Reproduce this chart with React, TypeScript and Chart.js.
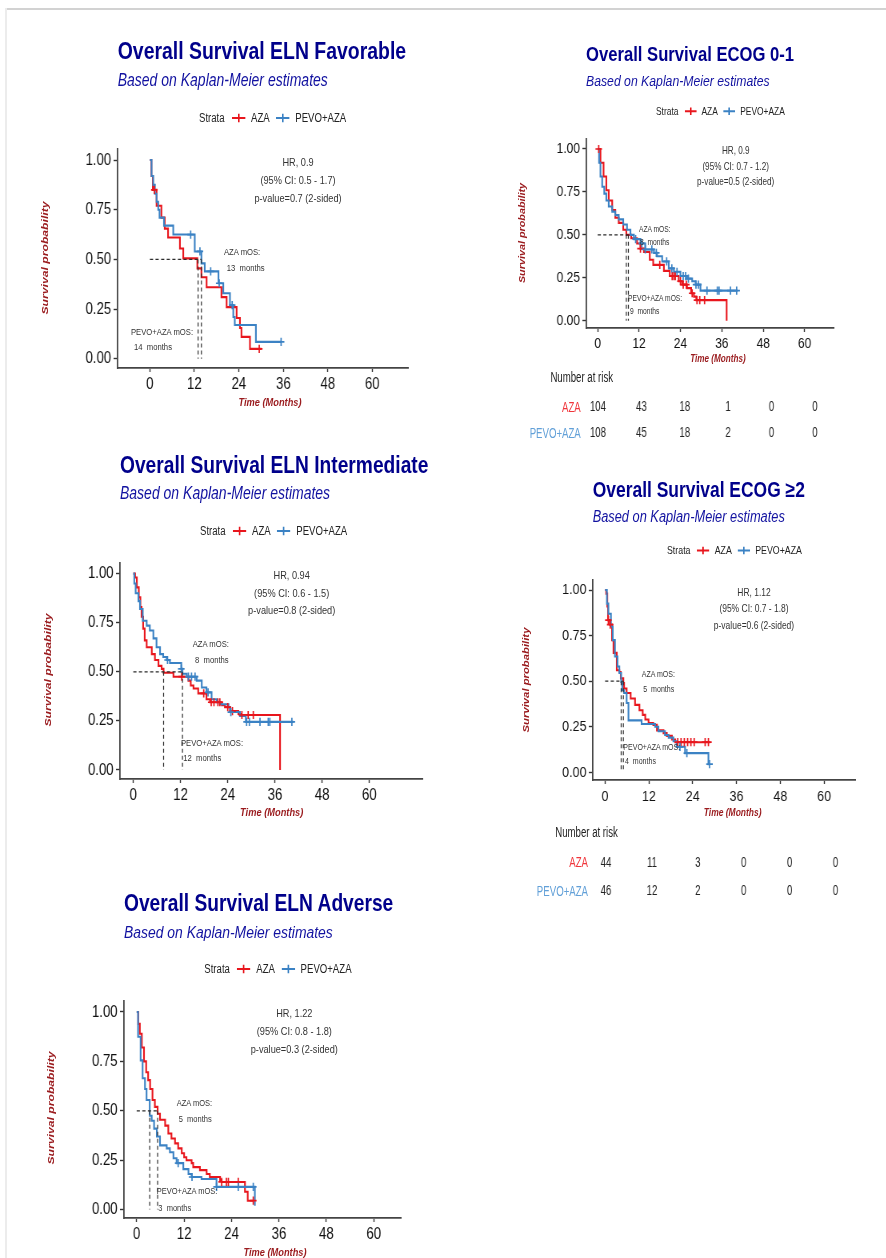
import React, { useEffect, useRef } from "react";
import { Chart, registerables } from "chart.js";
Chart.register(...registerables);

// ---------------- data ----------------
const xTickValues = [0, 12, 24, 36, 48, 60];
const yTickValues = [0, 0.25, 0.5, 0.75, 1];
const strataLabels = ["AZA", "PEVO+AZA"];
const riskTimes = [0, 12, 24, 36, 48, 60];

// ELN Favorable
const favAzaT = [0, 0.4, 0.8, 1.8, 3.1, 4.0, 4.9, 8.1, 9.0, 12.8, 13.9, 15.3, 19.3, 20.7, 23.4, 24.3, 24.7, 27.0, 30.1];
const favAzaS = [1, 0.92, 0.85, 0.77, 0.71, 0.655, 0.61, 0.555, 0.505, 0.455, 0.41, 0.36, 0.31, 0.26, 0.205, 0.155, 0.11, 0.05, 0.05];
const favAzaC = [1.2, 29.5];
const favPevoT = [0, 0.45, 0.9, 1.35, 1.8, 2.25, 2.6, 3.8, 6.3, 12.1, 13.9, 14.8, 18.5, 19.8, 21.6, 22.5, 22.9, 28.6, 35.4];
const favPevoS = [1, 0.92, 0.875, 0.83, 0.79, 0.75, 0.71, 0.67, 0.625, 0.54, 0.48, 0.44, 0.38, 0.33, 0.27, 0.21, 0.17, 0.085, 0.085];
const favPevoC = [11.0, 13.5, 16.4, 18.7, 22.2, 35.4];
const favMedians = [13.0, 13.9];

// ECOG 0-1
const e01AzaT = [0, 0.8, 1.7, 2.5, 3.2, 4.2, 5.1, 6.1, 7.4, 8.3, 9.7, 11.4, 12.4, 13.4, 15.1, 16.1, 19.2, 20.9, 23.5, 24.5, 25.9, 27.1, 27.9, 28.6, 37.4];
const e01AzaS = [1, 0.92, 0.84, 0.76, 0.70, 0.645, 0.60, 0.57, 0.53, 0.50, 0.48, 0.45, 0.42, 0.40, 0.355, 0.325, 0.29, 0.26, 0.23, 0.21, 0.19, 0.16, 0.14, 0.12, 0];
const e01AzaC = [0.3, 12.4, 18.0, 21.6, 22.1, 22.5, 24.0, 24.8, 25.7, 27.4, 28.8, 29.6, 31.0];
const e01PevoT = [0, 0.4, 0.8, 1.3, 1.9, 2.5, 3.2, 4.2, 5.1, 6.1, 7.4, 8.5, 9.5, 10.5, 12.4, 13.8, 16.3, 17.2, 18.7, 20.6, 22.1, 24.0, 25.9, 27.4, 28.4, 29.8, 40.6];
const e01PevoS = [1, 0.92, 0.84, 0.78, 0.74, 0.70, 0.665, 0.635, 0.615, 0.59, 0.56, 0.53, 0.50, 0.475, 0.45, 0.415, 0.395, 0.375, 0.345, 0.305, 0.285, 0.26, 0.245, 0.23, 0.21, 0.175, 0.175];
const e01PevoC = [11.0, 12.8, 13.8, 15.7, 17.0, 20.0, 21.5, 23.0, 24.8, 25.5, 26.3, 28.5, 29.2, 31.7, 34.7, 35.2, 38.5, 40.3];
const e01Medians = [8.3, 8.9];
const e01RiskAza = [104, 43, 18, 1, 0, 0];
const e01RiskPevo = [108, 45, 18, 2, 0, 0];

// ELN Intermediate
const intAzaT = [0, 0.45, 0.9, 1.4, 1.8, 2.1, 2.5, 2.9, 3.4, 4.7, 5.5, 6.4, 7.2, 7.7, 10.2, 14.0, 14.6, 15.3, 16.5, 18.6, 19.5, 22.5, 23.3, 24.6, 26.7, 27.5, 37.3];
const intAzaS = [1, 0.98, 0.93, 0.88, 0.83, 0.78, 0.72, 0.66, 0.625, 0.59, 0.56, 0.53, 0.515, 0.495, 0.475, 0.455, 0.43, 0.415, 0.39, 0.36, 0.345, 0.33, 0.32, 0.30, 0.285, 0.28, 0];
const intAzaC = [12.3, 17.9, 19.8, 20.5, 21.5, 22.0, 24.0, 25.2, 27.6, 29.2, 30.5];
const intPevoT = [0, 0.25, 0.6, 1.3, 1.7, 2.4, 3.4, 4.2, 5.1, 5.9, 6.8, 7.6, 8.5, 9.3, 12.2, 12.5, 13.6, 16.1, 17.4, 18.6, 19.9, 21.2, 22.0, 24.2, 24.6, 27.1, 28.6, 40.7];
const intPevoS = [1, 0.95, 0.90, 0.86, 0.82, 0.76, 0.735, 0.71, 0.67, 0.625, 0.59, 0.575, 0.56, 0.545, 0.515, 0.49, 0.475, 0.455, 0.42, 0.395, 0.36, 0.345, 0.335, 0.32, 0.295, 0.275, 0.245, 0.245];
const intPevoC = [8.7, 12.2, 14.0, 14.8, 15.7, 19.0, 24.8, 28.8, 29.5, 32.2, 34.3, 34.7, 40.3];
const intMedians = [7.7, 12.5];

// ECOG >=2
const e2AzaT = [0, 0.3, 0.6, 0.8, 1.3, 1.9, 2.3, 3.2, 3.9, 4.3, 5.0, 5.2, 5.9, 7.0, 8.2, 9.4, 10.3, 11.0, 11.9, 13.2, 14.2, 16.0, 16.9, 18.3, 19.2, 28.8];
const e2AzaS = [1, 0.98, 0.91, 0.835, 0.81, 0.725, 0.655, 0.56, 0.55, 0.515, 0.49, 0.46, 0.435, 0.405, 0.37, 0.34, 0.315, 0.29, 0.27, 0.26, 0.23, 0.215, 0.20, 0.18, 0.165, 0.165];
const e2AzaC = [0.9, 1.4, 19.9, 20.8, 21.7, 22.6, 23.5, 24.4, 27.4, 28.3];
const e2PevoT = [0, 0.5, 0.9, 1.6, 2.1, 2.7, 3.4, 3.9, 4.4, 4.7, 5.2, 5.9, 6.4, 10.0, 13.7, 14.6, 16.4, 17.4, 18.7, 19.6, 21.9, 28.3, 28.6];
const e2PevoS = [1, 0.925, 0.87, 0.80, 0.725, 0.635, 0.58, 0.545, 0.495, 0.45, 0.435, 0.38, 0.285, 0.265, 0.25, 0.225, 0.205, 0.19, 0.17, 0.14, 0.105, 0.045, 0.045];
const e2PevoC = [20.5, 22.4, 28.6];
const e2Medians = [5.0, 4.4];
const e2RiskAza = [44, 11, 3, 0, 0, 0];
const e2RiskPevo = [46, 12, 2, 0, 0, 0];

// ELN Adverse
const advAzaT = [0, 0.4, 0.8, 1.3, 1.85, 2.4, 2.9, 3.4, 4.0, 4.6, 5.3, 5.9, 7.2, 8.0, 8.8, 9.7, 10.5, 11.4, 12.0, 12.6, 13.9, 14.3, 16.0, 17.7, 18.5, 21.1, 21.5, 27.4, 28.1, 29.5];
const advAzaS = [1, 0.94, 0.89, 0.82, 0.75, 0.695, 0.655, 0.61, 0.555, 0.52, 0.485, 0.455, 0.425, 0.385, 0.36, 0.335, 0.31, 0.285, 0.265, 0.25, 0.235, 0.215, 0.20, 0.18, 0.165, 0.15, 0.14, 0.09, 0.045, 0.045];
const advAzaC = [21.5, 22.7, 23.2, 25.7, 29.5];
const advPevoT = [0, 0.35, 1.0, 1.5, 2.1, 2.5, 3.3, 3.8, 4.4, 5.1, 5.9, 7.6, 8.4, 9.3, 10.1, 11.8, 13.1, 13.9, 16.4, 20.2, 29.9];
const advPevoS = [1, 0.875, 0.755, 0.665, 0.61, 0.555, 0.475, 0.45, 0.41, 0.37, 0.325, 0.31, 0.29, 0.26, 0.235, 0.205, 0.18, 0.165, 0.155, 0.115, 0.02];
const advPevoC = [10.5, 14.0, 20.2, 25.7, 29.5];
const advMedians = [5.3, 3.3];

// ---------------- style ----------------
const K = 0.8; // horizontal compression of the whole figure
const FAMILY = "'Liberation Sans', Arial, Helvetica, sans-serif";
const RED = "#E8161D";
const BLUE = "#3B82C4";
const RED_LIGHT = "#F0363C";
const BLUE_LIGHT = "#62A0D8";
const NAVY = "#00008B";
const AXIS_RED = "#9A1B1E";
const YW = 60, PT = 24, PR = 24, XH = 34;

function survAt(ts: number[], ss: number[], x: number) {
  let v = ss[0];
  for (let i = 0; i < ts.length; i++) if (ts[i] <= x) v = ss[i];
  return v;
}

function KMPlot({ geo, azaT, azaS, azaC, pevoT, pevoS, pevoC, medians }: any) {
  const ref = useRef<HTMLCanvasElement | null>(null);
  const left = geo.axL / K - YW;
  const top = geo.axT - PT;
  const width = Math.round(geo.axR / K + PR - left);
  const height = Math.round(geo.axB + XH - top);
  useEffect(() => {
    const ppm = (geo.x60 - geo.x0) / 60;
    const ppu = geo.y0 - geo.y1;
    const xMin = (geo.axL - geo.x0) / ppm;
    const xMax = (geo.axR - geo.x0) / ppm;
    const yMin = (geo.y0 - geo.axB) / ppu;
    const yMax = (geo.y0 - geo.axT) / ppu;
    const line = (t: number[], s: number[], color: string) => ({
      type: "line", data: t.map((x, i) => ({ x, y: s[i] })), borderColor: color, borderWidth: 2.1,
      stepped: "before", pointRadius: 0, fill: false,
    });
    const cens = (t: number[], s: number[], c: number[], color: string) => ({
      type: "scatter", data: c.map((x) => ({ x, y: survAt(t, s, x) })), pointStyle: "cross",
      pointRadius: 4.1, pointBorderWidth: 1.7, borderColor: color, backgroundColor: color, showLine: false,
    });
    const dash = (pts: any[]) => ({
      type: "line", data: pts, borderColor: "#2b2b2b", borderWidth: 1.2, borderDash: [4, 3], pointRadius: 0, fill: false,
    });
    const mMax = Math.max(...medians);
    const datasets: any[] = [
      ...medians.map((m: number) => dash([{ x: m, y: 0.5 }, { x: m, y: 0 }])),
      dash([{ x: 0, y: 0.5 }, { x: mMax, y: 0.5 }]),
      cens(pevoT, pevoS, pevoC, BLUE),
      cens(azaT, azaS, azaC, RED),
      line(pevoT, pevoS, BLUE),
      line(azaT, azaS, RED),
    ];
    const tickFont = { family: FAMILY, size: geo.tickFs };
    const chart = new Chart(ref.current as HTMLCanvasElement, {
      type: "line",
      data: { datasets },
      options: {
        responsive: false,
        animation: false,
        events: [],
        layout: { padding: { top: PT, right: PR, left: 0, bottom: 0 } },
        plugins: { legend: { display: false }, tooltip: { enabled: false } },
        scales: {
          x: {
            type: "linear", min: xMin, max: xMax,
            afterBuildTicks: (sc: any) => { sc.ticks = xTickValues.map((v) => ({ value: v })); },
            afterFit: (sc: any) => { sc.height = XH; },
            ticks: { color: "#111", font: tickFont, padding: 3, maxRotation: 0, autoSkip: false, callback: (v: any) => String(v) },
            grid: { display: true, drawOnChartArea: false, drawTicks: true, tickLength: 4, tickColor: "#333", tickWidth: 1.4 },
            border: { display: true, color: "#444", width: 1.8 },
          },
          y: {
            type: "linear", min: yMin, max: yMax,
            afterBuildTicks: (sc: any) => { sc.ticks = yTickValues.map((v) => ({ value: v })); },
            afterFit: (sc: any) => { sc.width = YW; },
            ticks: { color: "#111", font: tickFont, padding: 3, autoSkip: false, callback: (v: any) => Number(v).toFixed(2) },
            grid: { display: true, drawOnChartArea: false, drawTicks: true, tickLength: 5, tickColor: "#333", tickWidth: 1.4 },
            border: { display: true, color: "#444", width: 1.8 },
          },
        },
      } as any,
    });
    return () => chart.destroy();
  }, []);
  return (
    <canvas ref={ref} width={width} height={height}
      style={{ position: "absolute", left, top, width, height }} />
  );
}

function RiskTable({ tab, aza, pevo }: any) {
  const ref = useRef<HTMLCanvasElement | null>(null);
  const M = 30;
  const ppm = (tab.x60 - tab.x0) / 60;
  const left = (tab.x0 - M) / K;
  const width = Math.round((tab.x60 - tab.x0 + 2 * M) / K);
  const gap = tab.r2 - tab.r1;
  const top = tab.r1 - gap / 2;
  const height = Math.round(2 * gap);
  useEffect(() => {
    const textPlugin = {
      id: "riskText",
      afterDatasetsDraw(chart: any) {
        const ctx = chart.ctx;
        ctx.save();
        ctx.font = `${tab.fs}px ${FAMILY}`;
        ctx.fillStyle = "#222";
        ctx.textAlign = "center";
        ctx.textBaseline = "middle";
        chart.data.datasets.forEach((ds: any, di: number) => {
          const meta = chart.getDatasetMeta(di);
          meta.data.forEach((el: any, j: number) => {
            ctx.save();
            ctx.translate(el.x, el.y + 0.8);
            ctx.scale(0.86, 1);
            ctx.fillText(String(ds.data[j].n), 0, 0);
            ctx.restore();
          });
        });
        ctx.restore();
      },
    };
    const rows = [aza, pevo];
    const chart = new Chart(ref.current as HTMLCanvasElement, {
      type: "scatter",
      data: {
        datasets: rows.map((arr: number[], r: number) => ({
          data: riskTimes.map((t, i) => ({ x: t, y: r, n: arr[i] })), pointRadius: 0,
        })),
      },
      options: {
        responsive: false, animation: false, events: [],
        layout: { padding: 0 },
        plugins: { legend: { display: false }, tooltip: { enabled: false } },
        scales: {
          x: { type: "linear", display: false, min: -M / ppm, max: 60 + M / ppm },
          y: { type: "linear", display: false, min: -0.5, max: 1.5, reverse: true },
        },
      } as any,
      plugins: [textPlugin],
    });
    return () => chart.destroy();
  }, []);
  return (
    <canvas ref={ref} width={width} height={height}
      style={{ position: "absolute", left, top, width, height }} />
  );
}

function Txt({ x, y, fs, text, color = "#333", bold = false, italic = false, align = "left", sx = 1 }: any) {
  const tx = align === "center" ? "-50%" : align === "right" ? "-100%" : "0";
  const origin = align === "center" ? "50% 50%" : align === "right" ? "100% 50%" : "0 50%";
  return (
    <div style={{
      position: "absolute", left: x / K, top: y - 0.49 * fs, fontSize: fs, lineHeight: `${fs}px`,
      whiteSpace: "pre", color, fontWeight: bold ? 700 : 400, fontStyle: italic ? "italic" : "normal",
      transform: `translateX(${tx}) scaleX(${sx})`, transformOrigin: origin,
    }}>{text}</div>
  );
}

function YTitle({ x, y, fs, text }: any) {
  return (
    <div style={{
      position: "absolute", left: x / K, top: y, fontSize: fs, lineHeight: `${fs}px`, whiteSpace: "nowrap",
      color: AXIS_RED, fontWeight: 700, fontStyle: "italic", transform: "translate(-50%,-50%) rotate(-90deg)",
    }}>{text}</div>
  );
}

function Sym({ color, w, h }: any) {
  return (
    <svg width={w} height={h} style={{ display: "block" }}>
      <line x1={0} y1={h / 2} x2={w} y2={h / 2} stroke={color} strokeWidth={2} />
      <line x1={w / 2} y1={h * 0.15} x2={w / 2} y2={h * 0.85} stroke={color} strokeWidth={2} />
    </svg>
  );
}

function Legend({ x, y, fs }: any) {
  const s = fs / 12;
  return (
    <div style={{
      position: "absolute", left: x / K, top: y - fs * 0.6, height: fs * 1.2, display: "flex",
      alignItems: "center", fontSize: fs, lineHeight: `${fs * 1.2}px`, color: "#222", whiteSpace: "nowrap",
    }}>
      <span>Strata</span>
      <span style={{ width: 9 * s }} />
      <Sym color={RED} w={17 * s} h={fs} />
      <span style={{ width: 7 * s }} />
      <span>{strataLabels[0]}</span>
      <span style={{ width: 8 * s }} />
      <Sym color={BLUE} w={17 * s} h={fs} />
      <span style={{ width: 7 * s }} />
      <span>{strataLabels[1]}</span>
    </div>
  );
}

function Panel({ p }: any) {
  return (
    <>
      <Txt x={p.title.x} y={p.title.y} fs={p.title.fs} text={p.title.text} color={NAVY} bold />
      <Txt x={p.title.x} y={p.sub.y} fs={p.sub.fs} text="Based on Kaplan-Meier estimates" color="#1212A0" italic />
      <Legend x={p.legend.x} y={p.legend.y} fs={p.legend.fs} />
      <KMPlot geo={p.geo} azaT={p.azaT} azaS={p.azaS} azaC={p.azaC} pevoT={p.pevoT} pevoS={p.pevoS} pevoC={p.pevoC} medians={p.medians} />
      {p.hr.lines.map((l: string, i: number) => (
        <Txt key={i} x={p.hr.x} y={p.hr.ys[i]} fs={p.hr.fs} text={l} align="center" />
      ))}
      <Txt x={p.aza.x} y={p.aza.y} fs={p.mosFs} text="AZA mOS:" />
      <Txt x={p.aza.x2} y={p.aza.y2} fs={p.mosFs} text={`${p.aza.m}  months`} />
      <Txt x={p.pevo.x} y={p.pevo.y} fs={p.mosFs} text="PEVO+AZA mOS:" />
      <Txt x={p.pevo.x2} y={p.pevo.y2} fs={p.mosFs} text={`${p.pevo.m}  months`} />
      <Txt x={p.xt.x} y={p.xt.y} fs={p.xt.fs} text="Time (Months)" color={AXIS_RED} bold italic align="center" />
      <YTitle x={p.yt.x} y={p.yt.y} fs={p.yt.fs} text="Survival probability" />
      {p.risk && (
        <>
          <Txt x={p.risk.lx} y={p.risk.ly} fs={p.risk.fs} text="Number at risk" color="#222" sx={0.86} />
          <Txt x={p.risk.rx} y={p.risk.tab.r1} fs={p.risk.fs} text={strataLabels[0]} color={RED_LIGHT} align="right" sx={0.86} />
          <Txt x={p.risk.rx} y={p.risk.tab.r2} fs={p.risk.fs} text={strataLabels[1]} color={BLUE_LIGHT} align="right" sx={0.86} />
          <RiskTable tab={p.risk.tab} aza={p.risk.aza} pevo={p.risk.pevo} />
        </>
      )}
    </>
  );
}

const panels: any[] = [
  {
    geo: { axL: 117.7, axT: 149, axB: 367.5, axR: 408, x0: 150, x60: 372.3, y1: 160, y0: 358.3, tickFs: 16.5 },
    title: { x: 117.7, y: 50.5, fs: 24.3, text: "Overall Survival ELN Favorable" },
    sub: { y: 81, fs: 17.5 }, legend: { x: 199, y: 117.7, fs: 12 },
    hr: { x: 298, ys: [163, 181, 199], fs: 11.5, lines: ["HR, 0.9", "(95% CI: 0.5 - 1.7)", "p-value=0.7 (2-sided)"] },
    mosFs: 9.6,
    aza: { x: 224, y: 252, x2: 226.7, y2: 268, m: "13" },
    pevo: { x: 131, y: 331.7, x2: 134, y2: 346.7, m: "14" },
    xt: { x: 270, y: 401.7, fs: 11.6 }, yt: { x: 45, y: 258, fs: 12.2 },
    azaT: favAzaT, azaS: favAzaS, azaC: favAzaC, pevoT: favPevoT, pevoS: favPevoS, pevoC: favPevoC, medians: favMedians,
  },
  {
    geo: { axL: 586, axT: 139, axB: 328.3, axR: 833, x0: 597.3, x60: 804, y1: 149, y0: 321, tickFs: 15 },
    title: { x: 586, y: 54.2, fs: 20.8, text: "Overall Survival ECOG 0-1" },
    sub: { y: 80, fs: 15.3 }, legend: { x: 656, y: 111.7, fs: 10.5 },
    hr: { x: 735.7, ys: [151, 166.7, 182.3], fs: 10.2, lines: ["HR, 0.9", "(95% CI: 0.7 - 1.2)", "p-value=0.5 (2-sided)"] },
    mosFs: 8.4,
    aza: { x: 639, y: 229, x2: 640, y2: 242.3, m: "8" },
    pevo: { x: 628, y: 297.7, x2: 630, y2: 311, m: "9" },
    xt: { x: 718, y: 359, fs: 10.2 }, yt: { x: 522.7, y: 233, fs: 10.8 },
    azaT: e01AzaT, azaS: e01AzaS, azaC: e01AzaC, pevoT: e01PevoT, pevoS: e01PevoS, pevoC: e01PevoC, medians: e01Medians,
    risk: { lx: 550, ly: 376.7, rx: 581, fs: 14, aza: e01RiskAza, pevo: e01RiskPevo,
      tab: { x0: 597.7, x60: 814.7, r1: 406.7, r2: 433.3, fs: 14 } },
  },
  {
    geo: { axL: 120, axT: 562.7, axB: 778.3, axR: 422.3, x0: 133.3, x60: 369.3, y1: 573.3, y0: 769.3, tickFs: 16.5 },
    title: { x: 120, y: 464.5, fs: 24, text: "Overall Survival ELN Intermediate" },
    sub: { y: 493.3, fs: 17.5 }, legend: { x: 200, y: 530.7, fs: 12 },
    hr: { x: 291.7, ys: [575.7, 593.3, 611], fs: 11.5, lines: ["HR, 0.94", "(95% CI: 0.6 - 1.5)", "p-value=0.8 (2-sided)"] },
    mosFs: 9.6,
    aza: { x: 192.7, y: 644, x2: 195, y2: 660, m: "8" },
    pevo: { x: 181, y: 742.3, x2: 183.3, y2: 757.3, m: "12" },
    xt: { x: 271.7, y: 811.7, fs: 11.6 }, yt: { x: 48.3, y: 670, fs: 12.2 },
    azaT: intAzaT, azaS: intAzaS, azaC: intAzaC, pevoT: intPevoT, pevoS: intPevoS, pevoC: intPevoC, medians: intMedians,
  },
  {
    geo: { axL: 592.7, axT: 580, axB: 780, axR: 855, x0: 605, x60: 824, y1: 590, y0: 772.3, tickFs: 15.5 },
    title: { x: 592.7, y: 489.5, fs: 21.8, text: "Overall Survival ECOG \u22652" },
    sub: { y: 516.7, fs: 16 }, legend: { x: 667, y: 550.7, fs: 11 },
    hr: { x: 754, ys: [592.3, 608.3, 625], fs: 10.6, lines: ["HR, 1.12", "(95% CI: 0.7 - 1.8)", "p-value=0.6 (2-sided)"] },
    mosFs: 8.8,
    aza: { x: 641.7, y: 674.3, x2: 643.3, y2: 689, m: "5" },
    pevo: { x: 623.3, y: 747.7, x2: 625, y2: 761.7, m: "4" },
    xt: { x: 732.7, y: 812.3, fs: 10.6 }, yt: { x: 526, y: 680, fs: 11.3 },
    azaT: e2AzaT, azaS: e2AzaS, azaC: e2AzaC, pevoT: e2PevoT, pevoS: e2PevoS, pevoC: e2PevoC, medians: e2Medians,
    risk: { lx: 555, ly: 831.7, rx: 587.7, fs: 14, aza: e2RiskAza, pevo: e2RiskPevo,
      tab: { x0: 605.7, x60: 835, r1: 862.3, r2: 890.7, fs: 14 } },
  },
  {
    geo: { axL: 124, axT: 1000.7, axB: 1217.7, axR: 401, x0: 136.7, x60: 374, y1: 1011.7, y0: 1209.3, tickFs: 16.5 },
    title: { x: 124, y: 902.8, fs: 24, text: "Overall Survival ELN Adverse" },
    sub: { y: 932.7, fs: 17.4 }, legend: { x: 204.3, y: 969, fs: 12 },
    hr: { x: 294.3, ys: [1014, 1031.7, 1050], fs: 11.5, lines: ["HR, 1.22", "(95% CI: 0.8 - 1.8)", "p-value=0.3 (2-sided)"] },
    mosFs: 9.4,
    aza: { x: 176.7, y: 1102.3, x2: 178.7, y2: 1118.3, m: "5" },
    pevo: { x: 156.7, y: 1191, x2: 158.3, y2: 1207.7, m: "3" },
    xt: { x: 275, y: 1251.7, fs: 11.6 }, yt: { x: 51, y: 1108.3, fs: 12.2 },
    azaT: advAzaT, azaS: advAzaS, azaC: advAzaC, pevoT: advPevoT, pevoS: advPevoS, pevoC: advPevoC, medians: advMedians,
  },
];

export default function App() {
  return (
    <div style={{ position: "absolute", left: 0, top: 0, width: 886, height: 1258, overflow: "hidden", background: "#fff", fontFamily: FAMILY }}>
      <div style={{ position: "absolute", left: 5, top: 8, width: 881, height: 2, background: "#d2d2d2" }} />
      <div style={{ position: "absolute", left: 5, top: 8, width: 2, height: 1250, background: "#ececec" }} />
      <div style={{ position: "absolute", left: 0, top: 0, width: 886 / K, height: 1258, transform: `scaleX(${K})`, transformOrigin: "0 0" }}>
        {panels.map((p, i) => <Panel key={i} p={p} />)}
      </div>
    </div>
  );
}
